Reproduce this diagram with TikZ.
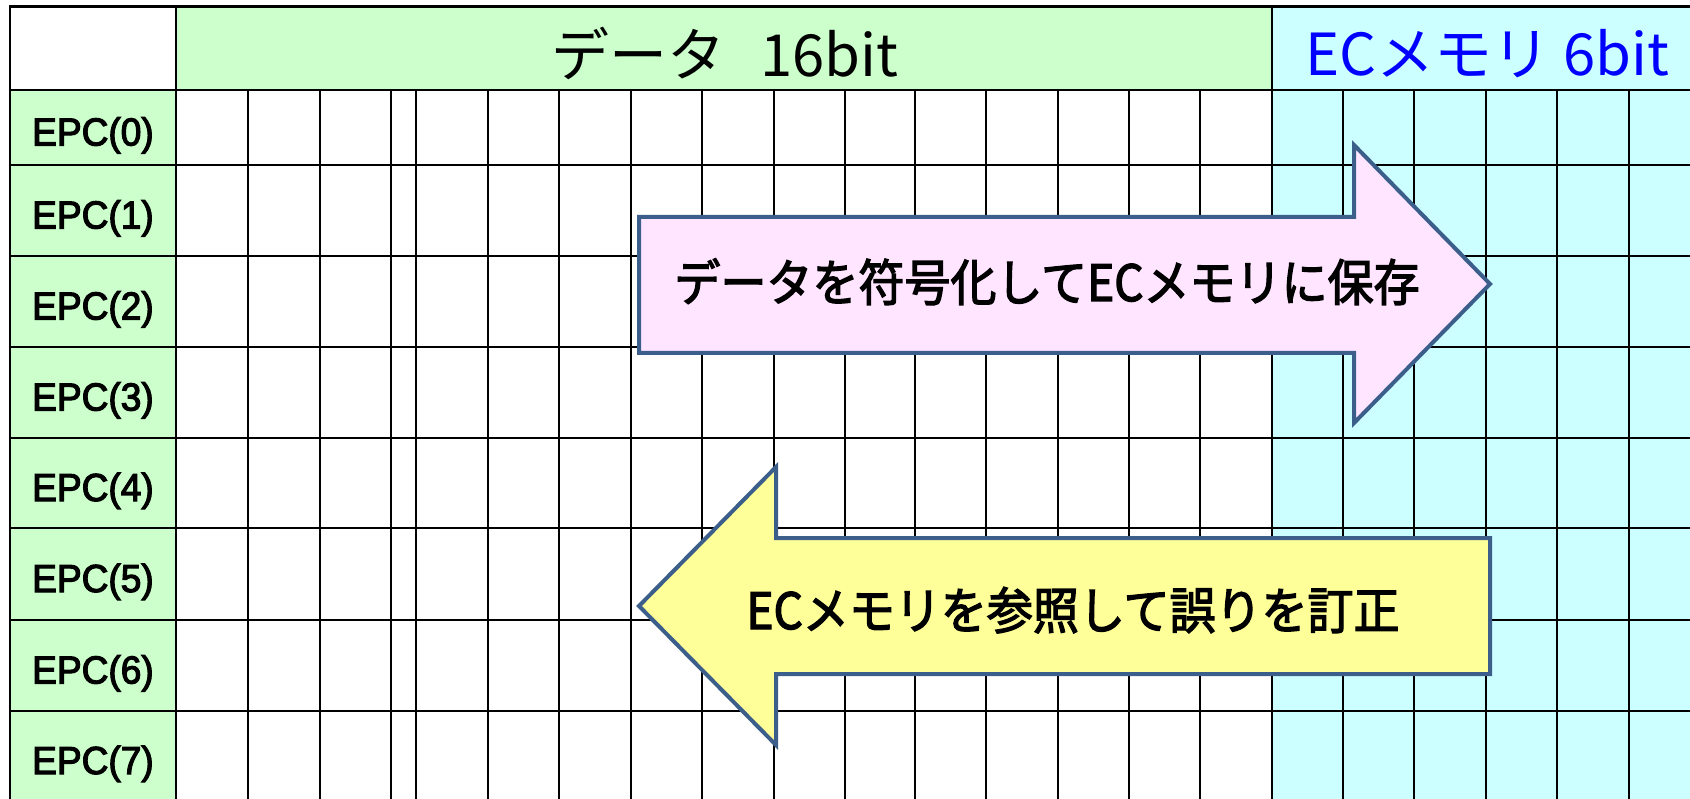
\documentclass[tikz,border=0pt]{standalone}
\usepackage{fontspec}
\setmainfont{Liberation Sans}
\newfontfamily\jp{Noto Sans CJK JP}
\newfontfamily\jpmed{Noto Sans CJK JP}[FakeBold=2.6,FakeStretch=0.92]
\newfontfamily\lblfont{Liberation Sans}[FakeBold=3,FakeStretch=0.95]
\definecolor{hdgreen}{HTML}{CCFFCC}
\definecolor{eccyan}{HTML}{CCFFFF}
\definecolor{arrpink}{HTML}{FFE5FF}
\definecolor{arryellow}{HTML}{FFFF99}
\definecolor{arredge}{HTML}{3B5F8A}
\definecolor{ecblue}{HTML}{0000FF}
\begin{document}
\begin{tikzpicture}[x=1pt,y=-1pt,
  gridline/.style={draw=black,line width=2.6pt},
  arrowshape/.style={draw=arredge,line width=4pt,line join=miter},
  lbl/.style={anchor=base,inner sep=0pt,font=\lblfont\fontsize{39}{40}\selectfont},
  hdtext/.style={anchor=base,inner sep=0pt,font=\jp\fontsize{58}{60}\selectfont},
  arrtext/.style={anchor=base,inner sep=0pt,font=\jpmed\fontsize{50}{52}\selectfont}]
\useasboundingbox (0,0) rectangle (1690,799);
\clip (0,0) rectangle (1690,799);
% fills
\fill[hdgreen] (176,6.7) rectangle (1272,90);
\fill[eccyan] (1272,6.7) rectangle (1710,810);
\fill[hdgreen] (10,90) rectangle (176,810);
% grid
\draw[gridline] (10,810) -- (10,6.7) -- (1710,6.7);
\foreach \y in {90,165,256,347,438,528,620,711}
  \draw[gridline] (10,\y) -- (1710,\y);
\draw[gridline] (176,6.7) -- (176,810);
\draw[gridline] (1272,6.7) -- (1272,810);
\foreach \x in {248,320,391,416,488,559,631,702,774,845,915,986,1058,1129,1200,1343,1414,1486,1557,1629}
  \draw[gridline] (\x,90) -- (\x,810);
% header texts
\node[hdtext] (hdata) at (725,77) {データ\hspace{0.6em}16bit};
\node[hdtext,text=ecblue] (hec) at (1487,76) {ECメモリ 6bit};
% row labels
\node[lbl] (l0) at (93,145.5) {EPC(0)};
\node[lbl] (l1) at (93,228.5) {EPC(1)};
\node[lbl] (l2) at (93,319.5) {EPC(2)};
\node[lbl] (l3) at (93,410.5) {EPC(3)};
\node[lbl] (l4) at (93,501) {EPC(4)};
\node[lbl] (l5) at (93,592) {EPC(5)};
\node[lbl] (l6) at (93,683.5) {EPC(6)};
\node[lbl] (l7) at (93,774) {EPC(7)};
% right arrow
\draw[arrowshape,fill=arrpink] (639,217) -- (1354,217) -- (1354,145) -- (1490,284)
  -- (1354,423) -- (1354,353) -- (639,353) -- cycle;
\node[arrtext] (enc) at (1047,301) {データを符号化してECメモリに保存};
% left arrow
\draw[arrowshape,fill=arryellow] (1490,538) -- (776,538) -- (776,467) -- (639,606)
  -- (776,745) -- (776,674) -- (1490,674) -- cycle;
\node[arrtext] (dec) at (1073,629) {ECメモリを参照して誤りを訂正};
\end{tikzpicture}
\end{document}
